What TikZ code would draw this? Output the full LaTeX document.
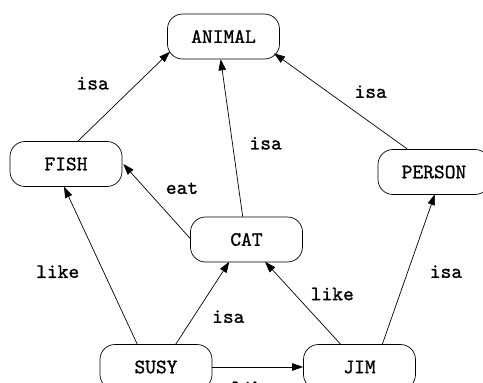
\documentclass[tikz,border=0pt]{standalone}
\usepackage{fontspec}
\newfontfamily\lbl{lmmono10-regular.otf}[FakeBold=1.0]
\usetikzlibrary{calc,arrows.meta}
\begin{document}
\begin{tikzpicture}[x=1pt,y=-1pt,
  concept/.style={draw,line width=0.7pt,rounded corners=15pt,minimum width=112pt,
    minimum height=45pt,inner sep=0pt,font=\fontsize{20.5}{24}\lbl},
  rel/.style={font=\fontsize{20.5}{24}\lbl,inner sep=0pt},
  link/.style={line width=0.7pt,-{Triangle[length=11pt,width=7.5pt]}}]
\useasboundingbox (0,0) rectangle (483,383);
\clip (0,0) rectangle (483,383);
\fill[white] (0,0) rectangle (483,383);

% concepts
\node[concept] (animal) at (223.5,36.5) {ANIMAL};
\node[concept] (fish)   at (66,164)     {FISH};
\node[concept] (person) at (434,172)    {PERSON};
\node[concept] (cat)    at (246.5,239.5){CAT};
\node[concept] (susy)   at (156,367)    {SUSY};
\node[concept] (jim)    at (359.5,367)  {JIM};

% relations
\draw[link] ($(fish)+(11.3,-22.3)$)   -- ($(animal)+(-53.5,15.2)$);
\draw[link] ($(cat)+(-3.8,-22.8)$)    -- ($(animal)+(-2.8,22.8)$);
\draw[link] ($(person)+(-26.7,-23)$)  -- ($(animal)+(50.5,16.8)$);
\draw[link] ($(cat)+(-56.5,-1.2)$)    -- ($(fish)+(57.3,0)$);
\draw[link] ($(susy)+(-18.7,-22.7)$)  -- ($(fish)+(-2,22.7)$);
\draw[link] ($(susy)+(19.7,-22.7)$)   -- ($(cat)+(-17.2,22.2)$);
\draw[link] ($(jim)+(-18.8,-22.7)$)   -- ($(cat)+(18.5,22.2)$);
\draw[link] ($(jim)+(22.8,-22.7)$)    -- ($(person)+(1,22)$);
\draw[link] (susy.east) -- (jim.west);

% relation labels
\node[rel] (l1) at (92.7,83.3)  {isa};
\node[rel] (l2) at (265.7,143.3){isa};
\node[rel] (l3) at (370.7,91.7) {isa};
\node[rel] (l4) at (182,188.3)  {eat};
\node[rel] (l5) at (57.7,271.7) {like};
\node[rel] (l6) at (228.3,316.7){isa};
\node[rel] (l7) at (332.3,294)  {like};
\node[rel] (l8) at (446,271.7)  {isa};
\node[rel] (l9) at (253,388)    {like};
\end{tikzpicture}
\end{document}
